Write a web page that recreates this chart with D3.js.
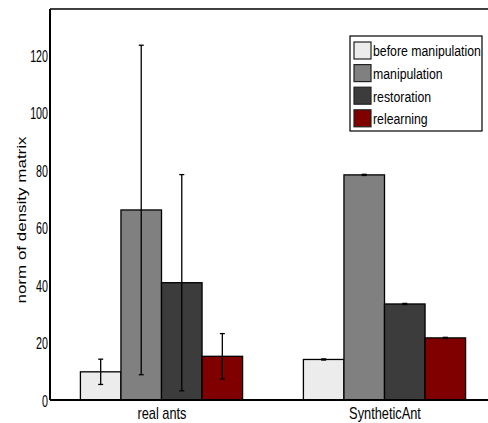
<!DOCTYPE html>
<html>
<head>
<meta charset="utf-8">
<script src="https://cdn.jsdelivr.net/npm/d3@7"></script>
<style>
  body { margin: 0; background: #fff; }
  text { font-family: "Liberation Sans", Arial, sans-serif; }
</style>
</head>
<body>
<svg width="488" height="423"></svg>
<script>
var groups = ["real ants", "SyntheticAnt"];
var seriesNames = ["before manipulation", "manipulation", "restoration", "relearning"];
var seriesColors = ["#ececec", "#808080", "#3c3c3c", "#800000"];
// values[series][group]
var values = [
  [9.8, 14.1],
  [66.1, 78.3],
  [40.8, 33.4],
  [15.2, 21.6]
];
var errors = [
  [4.4, 0.2],
  [57.3, 0.2],
  [37.6, 0.2],
  [7.9, 0.2]
];
var yTicks = [0, 20, 40, 60, 80, 100, 120];

var svg = d3.select("svg");
var mLeft = 50, mRight = 496, mTop = 9, mBottom = 400;

var x = d3.scaleLinear().domain([0.5, 2.5]).range([mLeft, mRight]);
var y = d3.scaleLinear().domain([0, 136]).range([mBottom, mTop]);

// MATLAB style grouped bars
var nS = seriesNames.length;
var groupWidth = Math.min(0.8, nS / (nS + 1.5));
var barW = groupWidth / nS;

var data = [];
seriesNames.forEach(function (s, i) {
  groups.forEach(function (g, j) {
    var xc = (j + 1) - groupWidth / 2 + barW * (i + 0.5);
    data.push({ s: i, g: j, xc: xc, v: values[i][j], e: errors[i][j] });
  });
});

svg.selectAll("rect.bar")
  .data(data)
  .enter()
  .append("rect")
  .attr("class", "bar")
  .attr("x", function (d) { return x(d.xc - barW / 2); })
  .attr("width", function (d) { return x(d.xc + barW / 2) - x(d.xc - barW / 2); })
  .attr("y", function (d) { return y(d.v); })
  .attr("height", function (d) { return y(0) - y(d.v); })
  .attr("fill", function (d) { return seriesColors[d.s]; })
  .attr("stroke", "#000")
  .attr("stroke-width", 1.3);

// error bars
var eb = svg.selectAll("g.err")
  .data(data)
  .enter()
  .append("g")
  .attr("class", "err")
  .attr("stroke", "#000")
  .attr("stroke-width", 1.3);
eb.append("line")
  .attr("x1", function (d) { return x(d.xc); })
  .attr("x2", function (d) { return x(d.xc); })
  .attr("y1", function (d) { return y(d.v + d.e); })
  .attr("y2", function (d) { return y(d.v - d.e); });
eb.selectAll("line.cap")
  .data(function (d) { return [[d.xc, d.v + d.e], [d.xc, d.v - d.e]]; })
  .enter()
  .append("line")
  .attr("class", "cap")
  .attr("x1", function (p) { return x(p[0]) - 2.5; })
  .attr("x2", function (p) { return x(p[0]) + 2.5; })
  .attr("y1", function (p) { return y(p[1]); })
  .attr("y2", function (p) { return y(p[1]); });

// axes frame
svg.append("line").attr("x1", mLeft).attr("x2", 488).attr("y1", mTop).attr("y2", mTop)
  .attr("stroke", "#000").attr("stroke-width", 1.5);
svg.append("line").attr("x1", mLeft).attr("x2", 488).attr("y1", mBottom).attr("y2", mBottom)
  .attr("stroke", "#000").attr("stroke-width", 2);
svg.append("line").attr("x1", mLeft).attr("x2", mLeft).attr("y1", mTop).attr("y2", mBottom)
  .attr("stroke", "#000").attr("stroke-width", 2);

// the figure is squeezed sideways, so text is drawn tall and narrow
var yAxis = d3.axisLeft(y).tickValues(yTicks).tickSize(0).tickPadding(0);
var ya = svg.append("g").attr("transform", "translate(" + (mLeft - 2) + ",0)").call(yAxis);
ya.select(".domain").remove();
ya.selectAll("text")
  .attr("x", 0)
  .attr("dy", "0.36em")
  .attr("transform", "scale(0.63,1)")
  .attr("font-size", 17)
  .attr("font-family", "Liberation Sans, Arial, sans-serif")
  .attr("fill", "#000");

var xAxis = d3.axisBottom(x).tickValues([1, 2]).tickSize(0).tickPadding(0)
  .tickFormat(function (d) { return groups[d - 1]; });
var xa = svg.append("g").attr("transform", "translate(0," + mBottom + ")").call(xAxis);
xa.select(".domain").remove();
xa.selectAll(".tick text")
  .attr("y", 0)
  .attr("dy", 0)
  .attr("transform", "translate(0,19) scale(0.8,1)")
  .attr("font-size", 16)
  .attr("font-family", "Liberation Sans, Arial, sans-serif")
  .attr("fill", "#000");

svg.append("text")
  .attr("transform", "translate(26,220) rotate(-90) scale(1,0.72)")
  .attr("text-anchor", "middle")
  .attr("font-size", 17)
  .text("norm of density matrix");

// legend
var lg = svg.append("g").attr("transform", "translate(350,36)");
lg.append("rect").attr("width", 132).attr("height", 95)
  .attr("fill", "#fff").attr("stroke", "#000").attr("stroke-width", 1.2);
var items = lg.selectAll("g.item")
  .data(seriesNames)
  .enter()
  .append("g")
  .attr("class", "item")
  .attr("transform", function (d, i) { return "translate(4," + (6 + i * 22.6) + ")"; });
items.append("rect")
  .attr("width", 17).attr("height", 17)
  .attr("fill", function (d, i) { return seriesColors[i]; })
  .attr("stroke", "#222").attr("stroke-width", 1.2);
items.append("text")
  .attr("transform", "translate(19,9) scale(0.82,1)")
  .attr("dy", "0.36em")
  .attr("font-size", 15)
  .text(function (d) { return d; });
</script>
</body>
</html>
